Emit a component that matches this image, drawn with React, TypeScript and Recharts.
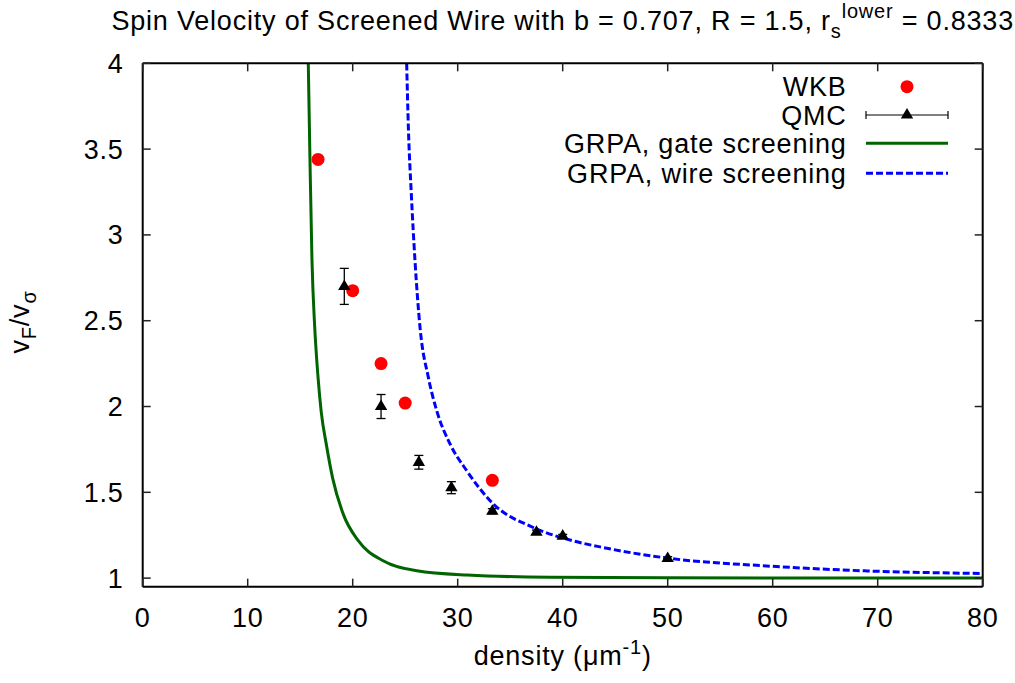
import React from "react";
import { ComposedChart, Scatter, Line, XAxis, YAxis, ErrorBar } from "recharts";

// density (um^-1) vs v_F / v_sigma
const wkbX = [16.7, 20.0, 22.7, 25.0, 33.3];
const wkbY = [3.44, 2.675, 2.25, 2.02, 1.57];

const qmcX = [19.2, 22.7, 26.3, 29.4, 33.3, 37.5, 40.0, 50.0];
const qmcY = [2.7, 2.0, 1.675, 1.527, 1.39, 1.268, 1.245, 1.115];
const qmcErr = [0.105, 0.07, 0.04, 0.035, 0.015, 0.012, 0.01, 0.01];

const gateX = [15.77, 15.93, 16.12, 16.38, 16.7, 17.0, 17.5, 18.1, 19.1, 20.53, 22.9, 26.1, 30.9, 38.8, 50, 65, 80];
const gateY = [4.0, 3.44, 2.855, 2.466, 2.17, 1.97, 1.775, 1.58, 1.373, 1.218, 1.101, 1.043, 1.018, 1.005, 1.002, 1.001, 1.0];

const wireX = [25.14, 25.3, 25.58, 25.93, 26.41, 27.2, 28.0, 29.27, 30.86, 33.4, 37.2, 41.0, 43.55, 50.06, 59.4, 68.95, 80];
const wireY = [4.0, 3.63, 3.241, 2.852, 2.462, 2.171, 1.976, 1.782, 1.626, 1.432, 1.295, 1.217, 1.182, 1.116, 1.071, 1.042, 1.027];

const xTicks = [0, 10, 20, 30, 40, 50, 60, 70, 80];
const yTicks = [1, 1.5, 2, 2.5, 3, 3.5, 4];

const wkb = wkbX.map((x, i) => ({ x, y: wkbY[i] }));
const qmc = qmcX.map((x, i) => ({ x, y: qmcY[i], err: qmcErr[i] }));
const gate = gateX.map((x, i) => ({ x, y: gateY[i] }));
const wire = wireX.map((x, i) => ({ x, y: wireY[i] }));

const FONT = "'Liberation Sans', Arial, Helvetica, sans-serif";
const FS = 27;
const LS = 0.8;
const SUB = 20;
const TICK_LEN = 8;

const BottomTick = (p: any) => (
  <g>
    <line x1={p.x} y1={p.y} x2={p.x} y2={p.y - TICK_LEN} stroke="#222" strokeWidth={1.5} />
    <text x={p.x} y={p.y + 40.5} textAnchor="middle" fontSize={FS} letterSpacing={LS} fontFamily={FONT} fill="#000">
      {p.payload.value}
    </text>
  </g>
);
const TopTick = (p: any) => (
  <line x1={p.x} y1={p.y} x2={p.x} y2={p.y + TICK_LEN} stroke="#222" strokeWidth={1.5} />
);
const LeftTick = (p: any) => (
  <g>
    <line x1={p.x} y1={p.y} x2={p.x + TICK_LEN} y2={p.y} stroke="#222" strokeWidth={1.5} />
    <text x={p.x - 19} y={p.y + 9.5} textAnchor="end" fontSize={FS} letterSpacing={LS} fontFamily={FONT} fill="#000">
      {p.payload.value}
    </text>
  </g>
);
const RightTick = (p: any) => (
  <line x1={p.x} y1={p.y} x2={p.x - TICK_LEN} y2={p.y} stroke="#222" strokeWidth={1.5} />
);

const Dot = (p: any) => <circle cx={p.cx} cy={p.cy} r={6.5} fill="#ff0000" />;
const Tri = (p: any) => (
  <polygon
    points={`${p.cx},${p.cy - 7} ${p.cx - 6.2},${p.cy + 3.6} ${p.cx + 6.2},${p.cy + 3.6}`}
    fill="#000"
  />
);

const axisLine = { stroke: "#000", strokeWidth: 2 };

export default function App() {
  return (
    <div style={{ position: "absolute", left: 0, top: 0, width: 1015, height: 683, background: "#fff" }}>
      <ComposedChart width={1015} height={683} margin={{ top: 62.3, right: 31.3, bottom: 95.3, left: 141.7 }}>
        <XAxis
          xAxisId="b"
          type="number"
          dataKey="x"
          domain={[0, 80]}
          ticks={xTicks}
          interval={0}
          height={1}
          tickSize={0}
          tickMargin={0}
          tickLine={false}
          axisLine={axisLine}
          tick={BottomTick}
          allowDataOverflow
        />
        <XAxis
          xAxisId="t"
          orientation="top"
          type="number"
          dataKey="x"
          domain={[0, 80]}
          ticks={xTicks}
          interval={0}
          height={1}
          tickSize={0}
          tickMargin={0}
          tickLine={false}
          axisLine={axisLine}
          tick={TopTick}
          allowDataOverflow
        />
        <YAxis
          yAxisId="l"
          type="number"
          dataKey="y"
          domain={[0.95, 4]}
          ticks={yTicks}
          interval={0}
          width={1}
          tickSize={0}
          tickMargin={0}
          tickLine={false}
          axisLine={axisLine}
          tick={LeftTick}
          allowDataOverflow
        />
        <YAxis
          yAxisId="r"
          orientation="right"
          type="number"
          dataKey="y"
          domain={[0.95, 4]}
          ticks={yTicks}
          interval={0}
          width={1}
          tickSize={0}
          tickMargin={0}
          tickLine={false}
          axisLine={axisLine}
          tick={RightTick}
          allowDataOverflow
        />
        <Scatter xAxisId="b" yAxisId="l" data={wkb} dataKey="y" shape={Dot} isAnimationActive={false} />
        <Scatter xAxisId="b" yAxisId="l" data={qmc} dataKey="y" shape={Tri} isAnimationActive={false}>
          <ErrorBar dataKey="err" direction="y" width={4.5} stroke="#000" strokeWidth={1.3} isAnimationActive={false} />
        </Scatter>
        <Line
          xAxisId="b"
          yAxisId="l"
          data={gate}
          dataKey="y"
          type="monotone"
          stroke="#006400"
          strokeWidth={3}
          dot={false}
          activeDot={false}
          isAnimationActive={false}
        />
        <Line
          xAxisId="b"
          yAxisId="l"
          data={wire}
          dataKey="y"
          type="monotone"
          stroke="#0000ff"
          strokeWidth={3}
          strokeDasharray="7 3"
          dot={false}
          activeDot={false}
          isAnimationActive={false}
        />
      </ComposedChart>

      {/* title, axis labels and key */}
      <svg
        width={1015}
        height={683}
        style={{ position: "absolute", left: 0, top: 0, pointerEvents: "none" }}
        fontFamily={FONT}
        fontSize={FS}
        letterSpacing={LS}
      >
        <text x={562.7} y={30} textAnchor="middle" fill="#000">
          Spin Velocity of Screened Wire with b = 0.707, R = 1.5, r
          <tspan fontSize={SUB} dy={8}>s</tspan>
          <tspan fontSize={SUB} dy={-20}>lower</tspan>
          <tspan dy={12}> = 0.8333</tspan>
        </text>

        <text x={562.7} y={665} textAnchor="middle" fill="#000">
          density (μm
          <tspan fontSize={SUB} dy={-11}>-1</tspan>
          <tspan dy={11}>)</tspan>
        </text>

        <text transform="translate(29,322) rotate(-90)" textAnchor="middle" fill="#000">
          v<tspan fontSize={SUB} dy={7}>F</tspan>
          <tspan dy={-7}>/v</tspan>
          <tspan fontSize={SUB} dy={7}>σ</tspan>
        </text>

        <g textAnchor="end" fill="#000">
          <text x={846.7} y={96}>WKB</text>
          <text x={846.7} y={124.5}>QMC</text>
          <text x={846.7} y={152.8}>GRPA, gate screening</text>
          <text x={846.7} y={182.8}>GRPA, wire screening</text>
        </g>
        <circle cx={907} cy={86.7} r={6.5} fill="#ff0000" />
        <line x1={866} y1={115} x2={948} y2={115} stroke="#000" strokeWidth={1.2} />
        <line x1={866} y1={111} x2={866} y2={119} stroke="#000" strokeWidth={1.2} />
        <line x1={948} y1={111} x2={948} y2={119} stroke="#000" strokeWidth={1.2} />
        <polygon points="907,108 900.8,118.6 913.2,118.6" fill="#000" />
        <line x1={866} y1={143.3} x2={948} y2={143.3} stroke="#006400" strokeWidth={3} />
        <line x1={866} y1={173.3} x2={948} y2={173.3} stroke="#0000ff" strokeWidth={3} strokeDasharray="7 3" />
      </svg>
    </div>
  );
}
